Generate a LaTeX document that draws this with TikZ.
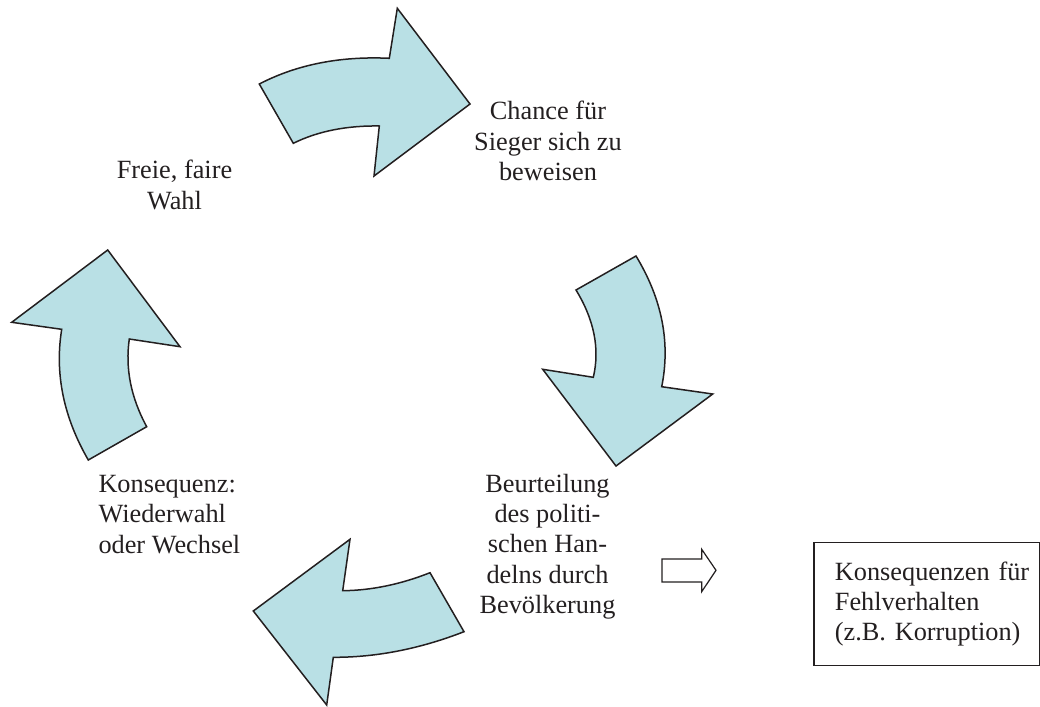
\documentclass[tikz,border=0pt]{standalone}
\usepackage{fontspec}
\setmainfont{Liberation Serif}
\definecolor{arrowfill}{RGB}{185,224,229}
\definecolor{txt}{RGB}{35,31,32}
\begin{document}
\begin{tikzpicture}[x=1pt,y=-1pt,
  cyc/.style={fill=arrowfill, draw=txt, line width=1.5pt, line join=miter},
  lbl/.style={font=\fontsize{26.3}{30.3}\selectfont, text=txt, inner sep=0pt, align=center},
  hollow/.style={fill=white, draw=txt, line width=1.2pt}]
\useasboundingbox (0,0) rectangle (1040,706);

% top arrow
\draw[cyc] (259.3,84) -- (293.3,143.3)
  .. controls (317.6,131.3) and (346.2,125.5) .. (379.3,126)
  -- (374,176) -- (470,104) -- (397.3,8.3) -- (389.3,58.3)
  .. controls (340.2,56) and (296.9,64.5) .. (259.3,84) -- cycle;

% right arrow
\draw[cyc] (636,256) -- (576,290)
  .. controls (594.2,319.8) and (600,348.9) .. (593.3,377.3)
  -- (542.7,369.3) -- (616,466) -- (712.7,394) -- (661.7,386.7)
  .. controls (670.6,342.6) and (662.1,299.1) .. (636,256) -- cycle;

% bottom arrow
\draw[cyc] (350,539.3) -- (342.7,590.7)
  .. controls (371.3,590.4) and (400.4,584.4) .. (430,572.7)
  -- (464,631.7)
  .. controls (419.5,649) and (376,657.4) .. (333.3,657.3)
  -- (326.7,705) -- (253.3,611) -- cycle;

% left arrow
\draw[cyc] (107.7,250) -- (180,346.7) -- (129.3,339)
  .. controls (125.1,368.4) and (130.9,397.6) .. (146.7,426.7)
  -- (88.3,460)
  .. controls (63.4,416.9) and (54.6,373.4) .. (61.7,329.3)
  -- (11.7,322.3) -- cycle;

% labels
\node[lbl, anchor=north] (chance) at (548,101) {Chance für\\Sieger sich zu\\beweisen};
\node[lbl, anchor=north] (wahl) at (174.5,160) {Freie, faire\\Wahl};
\node[lbl, align=left, anchor=north west] (konseq) at (98.3,475) {Konsequenz:\\Wiederwahl\\oder Wechsel};
\node[lbl, anchor=north] (beurt) at (547.5,473.7) {Beurteilung\\des politi-\\schen Han-\\delns durch\\Bevölkerung};

% small hollow arrow
\draw[hollow] (662,559) -- (701.7,559) -- (701.7,549.3) -- (716,570.3)
  -- (701.7,591.7) -- (701.7,582) -- (662,582) -- cycle;

% box
\node[lbl, align=left, draw=txt, line width=1.2pt, anchor=north west,
  text width=183.4pt, inner xsep=21pt, minimum height=123.3pt] (box) at (813.3,541.7)
  {\mbox{Konsequenzen für}\\Fehlverhalten\\\mbox{(z.B. Korruption)}};
\end{tikzpicture}
\end{document}
